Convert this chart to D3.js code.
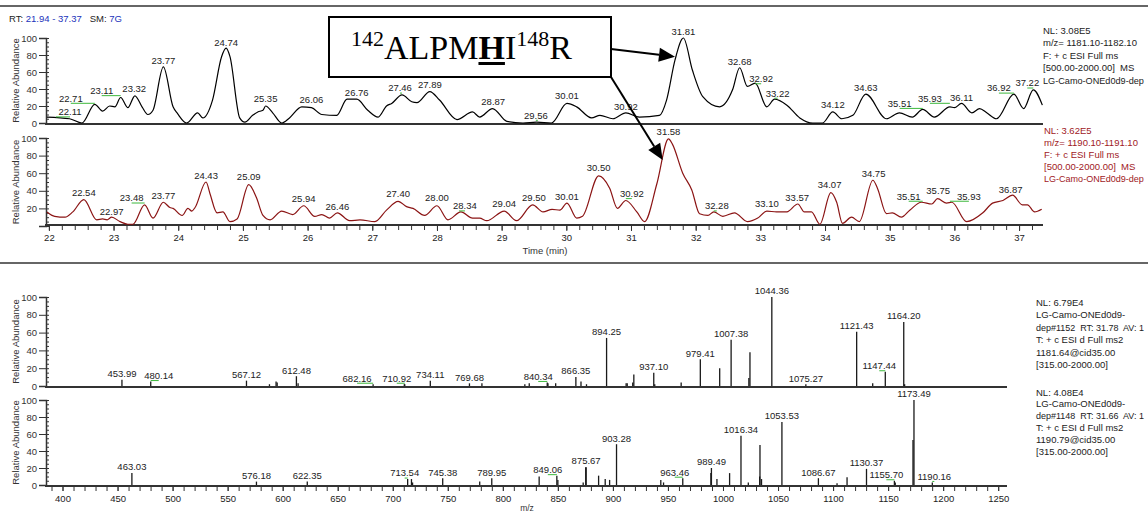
<!DOCTYPE html>
<html>
<head>
<meta charset="utf-8">
<script src="https://cdn.jsdelivr.net/npm/d3@7"></script>
<style>
body{margin:0;background:#fff}
text{font-family:"Liberation Sans",Arial,sans-serif;fill:#222}
</style>
</head>
<body>
<svg id="chart"></svg>
<script>
// chromatogram 1 (m/z 1181.10-1182.10)
var timeA = [21.97,22.32,22.51,22.71,22.83,22.94,23.02,23.11,23.22,23.33,
             23.44,23.53,23.61,23.77,23.92,23.99,24.13,24.30,24.38,24.53,
             24.67,24.74,24.80,24.95,25.03,25.15,25.23,25.31,25.35,25.46,
             25.60,25.72,25.91,26.06,26.22,26.45,26.61,26.76,26.93,27.09,
             27.22,27.30,27.46,27.61,27.69,27.89,28.04,28.31,28.55,28.66,
             28.86,29.08,29.33,29.54,29.77,30.01,30.16,30.39,30.52,30.72,
             30.92,31.13,31.44,31.55,31.68,31.81,31.95,32.11,32.37,32.57,
             32.68,32.80,32.92,33.10,33.22,33.41,33.61,33.81,33.96,34.12,
             34.26,34.43,34.63,34.95,35.15,35.35,35.51,35.69,35.93,36.00,
             36.11,36.27,36.39,36.50,36.65,36.92,37.07,37.22,37.36];
var abundA = [7,5,0,22,14,20,19,30,18,32,
              19,10,15,66,19,11,0,12,6,27,
              78,88,78,6,1,9,13,15,20,12,
              0,6,19,18,10,9,28,28,15,7,
              20,23,33,25,24,37,27,4,13,7,
              17,2,0,1,0,23,19,6,9,5,
              12,7,9,27,74,100,62,31,19,39,
              65,43,47,19,28,21,6,0,0,13,
              5,9,34,5,12,7,16,7,19,18,
              23,12,17,12,5,34,17,39,21];
var labelTimeA = [22.11,22.71,23.11,23.32,23.77,24.74,25.35,26.06,26.76,27.46,27.89,28.87,29.56,
                  30.01,30.92,31.81,32.68,32.92,33.22,34.12,34.63,35.51,35.93,36.11,36.92,37.22];
var labelAbundA = [6,22,31,33,66,88,22,20,29,34,38,18,2,25,12,100,65,45,28,14,34,16,22,23,34,40];

// chromatogram 2 (m/z 1190.10-1191.10)
var timeB = [21.97,22.09,22.25,22.37,22.54,22.74,22.83,22.90,22.97,23.10,
             23.22,23.30,23.48,23.61,23.77,23.87,23.92,24.06,24.15,24.21,
             24.26,24.43,24.49,24.60,24.69,24.80,24.91,25.09,25.21,25.31,
             25.42,25.60,25.77,25.94,26.11,26.22,26.34,26.46,26.65,26.81,
             27.04,27.22,27.40,27.53,27.63,27.81,28.00,28.17,28.37,28.55,
             28.66,28.77,29.04,29.23,29.48,29.64,29.78,29.90,30.01,30.16,
             30.25,30.50,30.67,30.79,30.92,31.09,31.21,31.40,31.58,31.64,
             31.80,31.94,32.06,32.19,32.28,32.42,32.60,32.80,32.96,33.10,
             33.25,33.41,33.58,33.68,33.79,33.92,34.09,34.18,34.27,34.41,
             34.53,34.74,34.81,34.95,35.04,35.18,35.31,35.49,35.65,35.74,
             35.88,35.96,36.19,36.44,36.59,36.75,36.90,37.05,37.13,37.24,
             37.35];
var abundB = [16,11,10,16,30,7,8,7,10,5,
              2,2,24,9,27,21,20,12,20,17,
              21,50,37,15,16,5,8,47,32,12,
              7,17,13,23,11,13,9,15,6,7,
              5,18,28,22,20,12,23,7,16,9,
              9,6,17,6,24,16,19,18,26,9,
              11,57,43,20,29,16,5,48,99,93,
              60,41,14,12,16,11,15,5,9,17,
              16,16,25,16,16,2,38,27,3,10,
              5,52,43,14,15,10,18,27,25,31,
              26,27,5,15,26,29,35,24,24,16,
              19];
var labelTimeB = [22.54,22.97,23.48,23.77,24.43,25.09,25.94,26.46,27.40,28.00,28.34,29.04,29.50,
                  30.01,30.50,30.92,31.58,32.28,33.10,33.57,34.07,34.75,35.51,35.75,35.93,36.87];
var labelAbundB = [31,10,25,28,50,49,24,15,30,25,16,18,25,27,59,30,100,16,18,25,40,53,27,33,27,35];

// MS2 spectrum of 1181.64
var mz1 = [453.99,480.14,567.12,588,594,595,612.48,614,682.16,710.5,710.92,734.11,769.68,781,820,824,
           840.34,841,848,866.35,871,876,894.25,912,913,918,919,937.10,938,962,979.41,997,1007.38,
           1023.5,1024.5,1044.36,1075.27,1121.43,1136,1147.44,1164.20,1165];
var int1 = [7,5,6,2,5,4,11,3,2,2,2,6,3,3,2,3,
            4,3,3,10,5,2,54,3,3,4,13,15,2,4,30,20,52,
            9,38,100,2,61,3,16,72,2];
var labels1 = [453.99,480.14,567.12,612.48,682.16,710.92,734.11,769.68,840.34,866.35,894.25,937.10,
               979.41,1007.38,1044.36,1075.27,1121.43,1147.44,1164.20];

// MS2 spectrum of 1190.79
var mz2 = [463.03,576.18,622.35,713.54,717,718,745.38,779,789.95,833,849.06,850,873,875.3,875.67,887,893,897,
           903.28,943.5,946,963.46,989,989.49,994.5,1006,1016.34,1023,1033.3,1033.6,1035,1053.53,1086.67,
           1103.6,1112.7,1130.37,1155.70,1156.5,1172.6,1173.49,1190.16];
var int2 = [14,4,4,7,7,3,8,4,8,10,11,6,3,21,21,11,7,6,
            48,6,3,8,14,20,7,14,58,3,10,47,7,74,8,
            2,9,19,5,3,53,100,3];
var labels2 = [463.03,576.18,622.35,713.54,745.38,789.95,849.06,875.67,903.28,963.46,989.49,1016.34,
               1053.53,1086.67,1130.37,1155.70,1173.49,1190.16];

var timeTicks = d3.range(22, 38, 1);
var mzTicks = d3.range(400, 1251, 50);
var abundTicks = [0, 20, 40, 60, 80, 100];

var chart_width = 1148, chart_height = 514;
var red = '#a0201e';

var svg = d3.select('#chart')
            .attr('width', chart_width)
            .attr('height', chart_height);

// scales
var xTime = d3.scaleLinear().domain([21.94, 37.37]).range([45, 1043]);
var yA = d3.scaleLinear().domain([0, 100]).range([123, 38]);
var yB = d3.scaleLinear().domain([0, 100]).range([226, 138]);
var xMz = d3.scaleLinear().domain([385, 1258]).range([46, 1007]);
var yS1 = d3.scaleLinear().domain([0, 100]).range([386, 297]);
var yS2 = d3.scaleLinear().domain([0, 100]).range([485, 400]);

// frame lines
svg.append('line').attr('x1', 0).attr('x2', chart_width).attr('y1', 6).attr('y2', 6)
   .attr('stroke', '#333').attr('stroke-width', 1.5);
svg.append('line').attr('x1', 0).attr('x2', chart_width).attr('y1', 263).attr('y2', 263)
   .attr('stroke', '#333').attr('stroke-width', 1.5);

// header
var head = svg.append('text').attr('x', 9).attr('y', 22).attr('font-size', '9.5px')
              .style('white-space', 'pre');
head.append('tspan').text('RT: ');
head.append('tspan').style('fill', '#2233bb').text('21.94 - 37.37');
head.append('tspan').text('   SM: ');
head.append('tspan').style('fill', '#2233bb').text('7G');

function yAxis(y, showZero) {
    var g = svg.append('g').attr('transform', 'translate(46,0)')
        .call(d3.axisLeft(y).tickValues(abundTicks).tickSize(7).tickPadding(2)
              .tickFormat(function(d){ return (d === 0 && !showZero) ? '' : d; }));
    g.attr('font-size', '9.5px').attr('font-family', null);
    g.select('.domain').attr('stroke', '#333').attr('stroke-width', 1.5);
    g.selectAll('.tick line').attr('stroke', '#333');
    g.selectAll('text').style('fill', '#333');
    var m = svg.append('g').attr('transform', 'translate(46,0)')
        .call(d3.axisRight(y).tickValues(d3.range(0, 101, 5)).tickSize(3).tickFormat(''));
    m.select('.domain').remove();
    m.selectAll('.tick line').attr('stroke', '#333');
    svg.append('text')
       .attr('transform', 'translate(16,' + ((y(0) + y(100)) / 2) + ') rotate(-90)')
       .attr('text-anchor', 'middle').attr('dy', '0.35em').attr('font-size', '9.5px')
       .style('fill', '#333')
       .text('Relative Abundance');
}

function baseLine(y0, x0, x1) {
    svg.append('line').attr('x1', x0).attr('x2', x1).attr('y1', y0).attr('y2', y0)
       .attr('stroke', '#333').attr('stroke-width', 1.8);
}

function drawLabel(px, py, txt, dx, color) {
    svg.append('text').attr('x', px + dx).attr('y', py).attr('dy', '0.35em')
       .attr('text-anchor', 'middle').attr('font-size', '9.5px')
       .style('fill', color).text(txt);
    if (dx) {
        svg.append('line').attr('x1', px + dx).attr('x2', px)
           .attr('y1', py + 5).attr('y2', py + 5)
           .attr('stroke', '#3cb83c').attr('stroke-width', 1);
    }
}

// ---- chromatograms
yAxis(yA, true);
yAxis(yB, false);
baseLine(yA(0) + 1, 45, 1043);
baseLine(yB(0) - 1, 45, 1043);

var gx = svg.append('g').attr('transform', 'translate(0,' + (yB(0) - 1) + ')')
    .call(d3.axisBottom(xTime).tickValues(timeTicks).tickSize(6).tickPadding(3));
gx.attr('font-size', '9.5px').attr('font-family', null);
gx.select('.domain').remove();
gx.selectAll('.tick line').attr('stroke', '#333');
var gxm = svg.append('g').attr('transform', 'translate(0,' + (yB(0) - 1) + ')')
    .call(d3.axisBottom(xTime).tickValues(d3.range(22, 37.3, 0.2)).tickSize(5).tickFormat(''));
gxm.select('.domain').remove();
gxm.selectAll('.tick line').attr('stroke', '#333');
svg.append('text').attr('x', 545).attr('y', 254).attr('text-anchor', 'middle')
   .attr('font-size', '9.5px').style('fill', '#333').text('Time (min)');

var lineA = d3.line().x(function(d){ return xTime(d[0]); }).y(function(d){ return yA(d[1]); })
              .curve(d3.curveMonotoneX);
var lineB = d3.line().x(function(d){ return xTime(d[0]); }).y(function(d){ return yB(d[1]); })
              .curve(d3.curveMonotoneX);

svg.append('path').datum(d3.zip(timeA, abundA)).attr('d', lineA)
   .attr('fill', 'none').attr('stroke', '#000').attr('stroke-width', 1.2);
svg.append('path').datum(d3.zip(timeB, abundB)).attr('d', lineB)
   .attr('fill', 'none').attr('stroke', '#8b1414').attr('stroke-width', 1.2);

var shiftA = {'22.11':14,'22.71':-24,'23.11':-19,'27.46':-2,'29.56':-2,'32.92':6,'33.22':3,
              '35.51':-23,'35.93':-20,'36.92':-15,'37.22':-6};
var shiftB = {'23.48':-13,'28.34':6,'30.92':6,'32.28':3,'35.51':-14,'35.93':19};

labelTimeA.forEach(function(t, i){
    var s = t.toFixed(2);
    drawLabel(xTime(t), yA(labelAbundA[i]) - 6, s, shiftA[s] || 0, '#222');
});
labelTimeB.forEach(function(t, i){
    var s = t.toFixed(2);
    drawLabel(xTime(t), yB(labelAbundB[i]) - 6, s, shiftB[s] || 0, '#222');
});

// ---- spectra
yAxis(yS1, true);
yAxis(yS2, true);
baseLine(yS1(0) + 1, 45, 1007);
baseLine(yS2(0) + 1, 45, 1007);

var sx = svg.append('g').attr('transform', 'translate(0,' + (yS2(0) + 1) + ')')
    .call(d3.axisBottom(xMz).tickValues(mzTicks).tickSize(5).tickPadding(4).tickFormat(d3.format('d')));
sx.attr('font-size', '9.5px').attr('font-family', null);
sx.select('.domain').remove();
sx.selectAll('.tick line').attr('stroke', '#333');
var sxm = svg.append('g').attr('transform', 'translate(0,' + (yS2(0) + 1) + ')')
    .call(d3.axisBottom(xMz).tickValues(d3.range(390, 1251, 10)).tickSize(5).tickFormat(''));
sxm.select('.domain').remove();
sxm.selectAll('.tick line').attr('stroke', '#333');
svg.append('text').attr('x', 527).attr('y', 511).attr('text-anchor', 'middle')
   .attr('font-size', '8.5px').style('fill', '#333').text('m/z');

function sticks(mz, inten, y) {
    svg.append('g').selectAll('line')
       .data(d3.zip(mz, inten)).enter().append('line')
       .attr('x1', function(d){ return xMz(d[0]); })
       .attr('x2', function(d){ return xMz(d[0]); })
       .attr('y1', y(0))
       .attr('y2', function(d){ return y(d[1]); })
       .attr('stroke', '#1a1a1a').attr('stroke-width', 1.3);
}
sticks(mz1, int1, yS1);
sticks(mz2, int2, yS2);

var shiftS1 = {'480.14':8,'682.16':-16,'710.92':-8,'840.34':-9,'1147.44':-6};
var shiftS2 = {'713.54':-3,'849.06':-9,'963.46':-8,'1155.70':-8,'1190.16':2};

labels1.forEach(function(m){
    var s = m.toFixed(2);
    drawLabel(xMz(m), yS1(int1[mz1.indexOf(m)]) - 6, s, shiftS1[s] || 0, '#222');
});
labels2.forEach(function(m){
    var s = m.toFixed(2);
    drawLabel(xMz(m), yS2(int2[mz2.indexOf(m)]) - 6, s, shiftS2[s] || 0, '#222');
});

// ---- right-hand info
function info(x, y0, step, lines, color) {
    lines.forEach(function(l, i){
        var t = svg.append('text').attr('x', x).attr('y', y0 + i * step)
           .attr('font-size', '9.5px').style('fill', color).style('white-space', 'pre').text(l);
        // shrink long lines so they stay inside the page
        var w = t.node().getComputedTextLength();
        var room = chart_width - 4 - x;
        if (w > room) t.attr('font-size', (9.5 * room / w).toFixed(2) + 'px');
    });
}
info(1043, 33.5, 12.6, ['NL: 3.08E5', 'm/z= 1181.10-1182.10', 'F: + c ESI Full ms',
                        '[500.00-2000.00]  MS', 'LG-Camo-ONEd0d9-dep'], '#222');
info(1044, 133.5, 12, ['NL: 3.62E5', 'm/z= 1190.10-1191.10', 'F: + c ESI Full ms',
                       '[500.00-2000.00]  MS', 'LG-Camo-ONEd0d9-dep'], red);
info(1036, 305.5, 12.5, ['NL: 6.79E4', 'LG-Camo-ONEd0d9-', 'dep#1152  RT: 31.78  AV: 1',
                         'T: + c ESI d Full ms2', '1181.64@cid35.00', '[315.00-2000.00]'], '#222');
info(1036, 395.5, 11.8, ['NL: 4.08E4', 'LG-Camo-ONEd0d9-', 'dep#1148  RT: 31.66  AV: 1',
                         'T: + c ESI d Full ms2', '1190.79@cid35.00', '[315.00-2000.00]'], '#222');

// ---- peptide box and arrows
svg.append('rect').attr('x', 329).attr('y', 17).attr('width', 282).attr('height', 60)
   .attr('fill', '#fff').attr('stroke', '#000').attr('stroke-width', 2);
var pep = svg.append('text').attr('x', 351).attr('y', 59)
             .style('font-family', '"Liberation Serif","Times New Roman",serif')
             .style('fill', '#000').attr('font-size', '34px');
pep.append('tspan').attr('font-size', '22px').attr('dy', -13).text('142');
pep.append('tspan').attr('dy', 13).text('ALPM');
pep.append('tspan').attr('font-weight', 'bold').text('H');
pep.append('tspan').text('I');
pep.append('tspan').attr('font-size', '22px').attr('dy', -13).text('148');
pep.append('tspan').attr('dy', 13).text('R');
var pn = pep.node();
var hx0 = pn.getStartPositionOfChar(7).x, hx1 = pn.getEndPositionOfChar(7).x;
svg.append('rect').attr('x', hx0).attr('y', 62).attr('width', hx1 - hx0).attr('height', 3).attr('fill', '#000');

function arrow(x1, y1, x2, y2) {
    var dx = x2 - x1, dy = y2 - y1, len = Math.sqrt(dx * dx + dy * dy);
    var ux = dx / len, uy = dy / len, hl = 16, hw = 7;
    var bx = x2 - ux * hl, by = y2 - uy * hl;
    svg.append('line').attr('x1', x1).attr('y1', y1).attr('x2', bx).attr('y2', by)
       .attr('stroke', '#000').attr('stroke-width', 2);
    svg.append('path')
       .attr('d', 'M' + x2 + ',' + y2 + 'L' + (bx - uy * hw) + ',' + (by + ux * hw) +
                  'L' + (bx + uy * hw) + ',' + (by - ux * hw) + 'Z')
       .attr('fill', '#000');
}
arrow(611, 49, xTime(31.68), yA(78));
arrow(611, 77, xTime(31.49), yB(75));
</script>
</body>
</html>
